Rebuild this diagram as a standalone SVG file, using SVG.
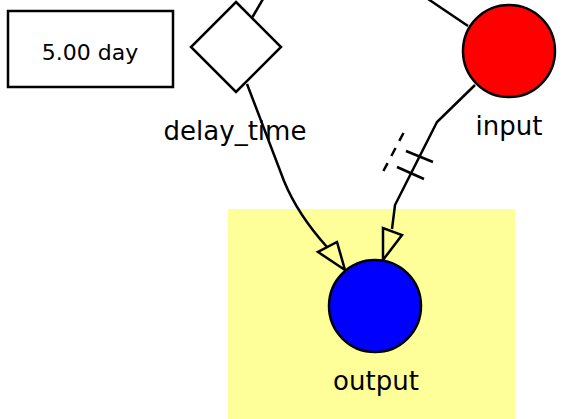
<svg xmlns="http://www.w3.org/2000/svg" width="562" height="419" viewBox="0 0 562 419">
<style>
.ln{fill:none;stroke:#000;stroke-width:2.5}
.lbl{font-family:"DejaVu Sans",sans-serif;font-size:26px;fill:#000;text-anchor:middle}
.node{stroke:#000;stroke-width:2.5}
</style>
<rect x="228" y="209" width="287" height="210" fill="#ffff99"/>
<g id="connectors">
<path class="ln" d="M252.5,17 L263,-1"/>
<path class="ln" d="M468,26 L428,-1"/>
<path class="ln" d="M247,84 L284,181 C293,203 309,227 327,247"/>
<polygon class="ln" points="345,270 318,252 337,242" fill="#fff"/>
<path class="ln" d="M475,85 L437,122 L395,205 L392,229"/>
<polygon class="ln" points="383,260 383,228 402,235" fill="#fff"/>
<path class="ln" d="M406,151 L433,162 M397,167 L424,179"/>
<path class="ln" d="M403.5,133 L381,175.5" stroke-dasharray="9,8"/>
</g>
<g id="param">
<rect x="8" y="11" width="165" height="76" class="node" fill="#fff"/>
<text x="90" y="60" style="font-family:'DejaVu Sans',sans-serif;font-size:22px" text-anchor="middle">5.00 day</text>
</g>
<g id="delay_time">
<polygon points="236,2 281,47 236,92 191,47" class="node" fill="#fff"/>
<text x="235" y="140" class="lbl">delay_time</text>
</g>
<g id="input">
<circle cx="509" cy="51" r="46" class="node" fill="#ff0000"/>
<text x="509" y="135" class="lbl">input</text>
</g>
<g id="output">
<circle cx="375" cy="306" r="46" class="node" fill="#0000ff"/>
<text x="376" y="390" class="lbl">output</text>
</g>
</svg>
